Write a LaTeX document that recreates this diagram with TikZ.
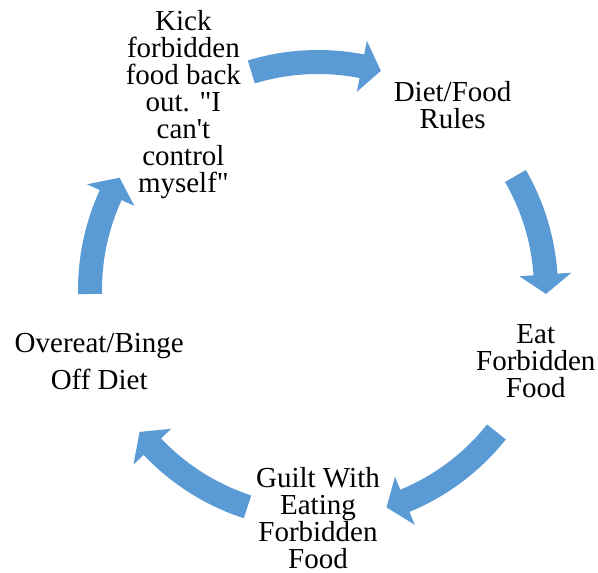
\documentclass[tikz,border=0pt]{standalone}
\usepackage{fontspec}
\setmainfont{Liberation Serif}
\usepackage{tikz}
\definecolor{arrowblue}{RGB}{91,155,213}
\tikzstyle{every node}=[align=center, inner sep=0pt, font=\fontsize{29}{27}\selectfont]
\tikzstyle{cyclearrow}=[fill=arrowblue]

\begin{document}
\begin{tikzpicture}[x=1pt, y=1pt]
    \useasboundingbox (-318,-283) rectangle (280,290);
% Steps
    \node (diet) at (54:229) {Diet/Food\\Rules};
    \node (eat) at (-18:229) {Eat\\Forbidden\\Food};
    \node (guilt) at (-90:228) {Guilt With\\Eating\\Forbidden\\Food};
    \node (binge) at (198:230) {Overeat/Binge\\[10pt]Off Diet};
    \node (kick) at (126:229) {Kick\\forbidden\\food back\\out. \textquotedbl I\\can\textquotesingle t\\control\\myself\textquotedbl};
% Arrows
    \fill[cyclearrow] (107:240) arc[start angle=107, end angle=78.9, radius=240] -- (78.9:254) -- (74:228) -- (78.9:202) -- (78.9:216) arc[start angle=78.9, end angle=107, radius=216] -- cycle;
    \fill[cyclearrow] (30:240) arc[start angle=30, end angle=3.9, radius=240] -- (3.9:254) -- (-1:228) -- (3.9:202) -- (3.9:216) arc[start angle=3.9, end angle=30, radius=216] -- cycle;
    \fill[cyclearrow] (-38.5:240) arc[start angle=-38.5, end angle=-67.6, radius=240] -- (-67.6:254) -- (-72.5:228) -- (-67.6:202) -- (-67.6:216) arc[start angle=-67.6, end angle=-38.5, radius=216] -- cycle;
    \fill[cyclearrow] (-108:240) arc[start angle=-108, end angle=-136.6, radius=240] -- (-136.6:254) -- (-141.5:228) -- (-136.6:202) -- (-136.6:216) arc[start angle=-136.6, end angle=-108, radius=216] -- cycle;
    \fill[cyclearrow] (181:240) arc[start angle=181, end angle=155.4, radius=240] -- (155.4:254) -- (150.5:228) -- (155.4:202) -- (155.4:216) arc[start angle=155.4, end angle=181, radius=216] -- cycle;
\end{tikzpicture}
\end{document}
